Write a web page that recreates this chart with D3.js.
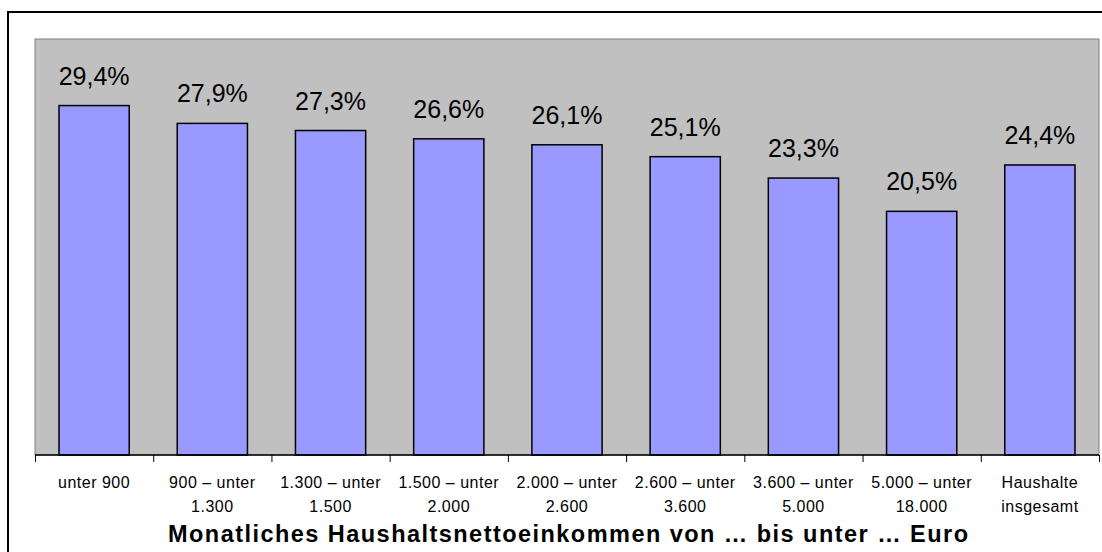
<!DOCTYPE html>
<html>
<head>
<meta charset="utf-8">
<script src="https://cdn.jsdelivr.net/npm/d3@7"></script>
<style>
  body { margin: 0; background: #fff; }
  svg { display: block; font-family: Arial, "Liberation Sans", sans-serif; }
</style>
</head>
<body>
<div id="chart"></div>
<script>
// data
const categories = ['unter 900', '900 – unter 1.300', '1.300 – unter 1.500', '1.500 – unter 2.000',
                    '2.000 – unter 2.600', '2.600 – unter 3.600', '3.600 – unter 5.000',
                    '5.000 – unter 18.000', 'Haushalte insgesamt'];
const tickLines = [['unter 900'], ['900 – unter', '1.300'], ['1.300 – unter', '1.500'],
                   ['1.500 – unter', '2.000'], ['2.000 – unter', '2.600'], ['2.600 – unter', '3.600'],
                   ['3.600 – unter', '5.000'], ['5.000 – unter', '18.000'], ['Haushalte', 'insgesamt']];
const values = [29.4, 27.9, 27.3, 26.6, 26.1, 25.1, 23.3, 20.5, 24.4];
const xTitle = 'Monatliches Haushaltsnettoeinkommen von … bis unter … Euro';

const width = 1102,
      height = 552;
const plot = { left: 35, right: 1099, top: 39, bottom: 455 };

const svg = d3.select('#chart')
              .append('svg')
              .attr('width', width)
              .attr('height', height);

// outer frame
svg.append('rect')
   .attr('x', 8).attr('y', 12)
   .attr('width', 1100).attr('height', 550)
   .attr('fill', '#fff')
   .attr('stroke', '#000')
   .attr('stroke-width', 2);

// plot area
svg.append('rect')
   .attr('x', plot.left).attr('y', plot.top)
   .attr('width', plot.right - plot.left)
   .attr('height', plot.bottom - plot.top)
   .attr('fill', '#c0c0c0')
   .attr('stroke', '#808080')
   .attr('stroke-width', 1);

const x = d3.scaleBand()
            .domain(categories)
            .range([plot.left, plot.right])
            .paddingInner(0.406)
            .paddingOuter(0.203);

const y = d3.scaleLinear()
            .domain([0, 35])
            .range([plot.bottom, plot.top]);

// bars
svg.append('g')
   .selectAll('rect')
   .data(values)
   .enter()
   .append('rect')
   .attr('x', (d, i) => x(categories[i]))
   .attr('y', d => y(d))
   .attr('width', x.bandwidth())
   .attr('height', d => y(0) - y(d))
   .attr('fill', '#9999ff')
   .attr('stroke', '#000')
   .attr('stroke-width', 1.5);

// value labels
svg.append('g')
   .selectAll('text')
   .data(values)
   .enter()
   .append('text')
   .attr('x', (d, i) => x(categories[i]) + x.bandwidth() / 2)
   .attr('y', d => y(d) - 21)
   .attr('text-anchor', 'middle')
   .attr('font-size', 25)
   .attr('fill', '#000')
   .text(d => d.toFixed(1).replace('.', ',') + '%');

// x axis line + ticks between categories
const step = x.step();
const axis = svg.append('g');
axis.append('line')
    .attr('x1', plot.left).attr('x2', plot.right)
    .attr('y1', plot.bottom).attr('y2', plot.bottom)
    .attr('stroke', '#000').attr('stroke-width', 1.5);
axis.selectAll('.tick')
    .data(d3.range(categories.length + 1))
    .enter()
    .append('line')
    .attr('x1', i => plot.left + i * step + 0.5)
    .attr('x2', i => plot.left + i * step + 0.5)
    .attr('y1', plot.bottom)
    .attr('y2', plot.bottom + 7)
    .attr('stroke', '#000');

// tick labels
const labels = svg.append('g')
                  .selectAll('text')
                  .data(tickLines)
                  .enter()
                  .append('text')
                  .attr('text-anchor', 'middle')
                  .attr('font-size', 16)
                  .attr('letter-spacing', 0.5)
                  .attr('fill', '#000');
labels.each(function(lines, i) {
  const cx = x(categories[i]) + x.bandwidth() / 2;
  d3.select(this).selectAll('tspan')
    .data(lines)
    .enter()
    .append('tspan')
    .attr('x', cx)
    .attr('y', (l, j) => 488 + j * 24)
    .text(l => l);
});

// axis title
svg.append('text')
   .attr('x', 568)
   .attr('y', 542)
   .attr('text-anchor', 'middle')
   .attr('font-size', 23.5)
   .attr('font-weight', 'bold')
   .attr('textLength', 800)
   .attr('lengthAdjust', 'spacing')
   .attr('fill', '#000')
   .text(xTitle);
</script>
</body>
</html>
